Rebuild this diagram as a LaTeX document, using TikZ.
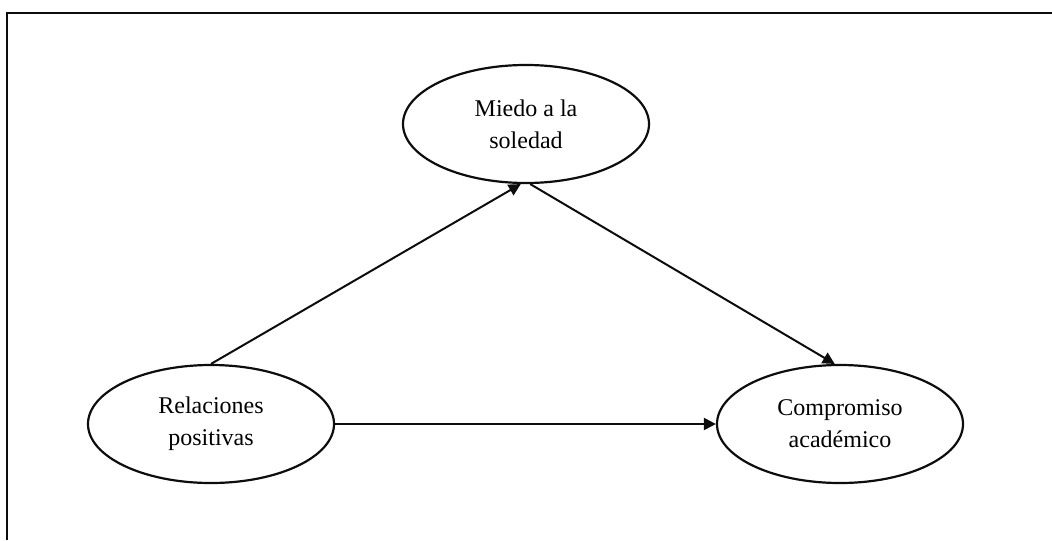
\documentclass[tikz,border=0pt]{standalone}
\usepackage{fontspec}
\setmainfont{Liberation Serif}
\usepackage{tikz}
\usetikzlibrary{arrows.meta, positioning, shapes.geometric}
\definecolor{mainBlack}{gray}{0.05}

\tikzset{
    construct/.style={draw=mainBlack, ellipse, line width=1.1pt, inner sep=0pt,
        minimum width=123pt, minimum height=59pt, align=center,
        font=\fontsize{12pt}{16pt}\selectfont},
    path/.style={->, line width=1pt, mainBlack}
}

\begin{document}
\begin{tikzpicture}[x=0.5pt, y=-0.5pt, >={Triangle[length=6pt, width=6pt]}]
    \useasboundingbox (0,0) rectangle (1052,540);
    \coordinate (frameBL) at (7,540);
    \coordinate (frameTL) at (7,13);
    \coordinate (frameTR) at (1052,13);
    \draw[line width=0.8pt, mainBlack] (frameBL) -- (frameTL) -- (frameTR); % open frame

    \node[construct] (miedo) at (526,124) {Miedo a la\\soledad};
    \node[construct] (relac) at (211,424) {Relaciones\\positivas};
    \node[construct] (compr) at (840,424) {Compromiso\\académico};

    \draw[path] (relac.north) -- (miedo.265);
    \draw[path] (miedo.274) -- (compr.95);
    \draw[path] (relac.east) -- (compr.west);
\end{tikzpicture}
\end{document}
